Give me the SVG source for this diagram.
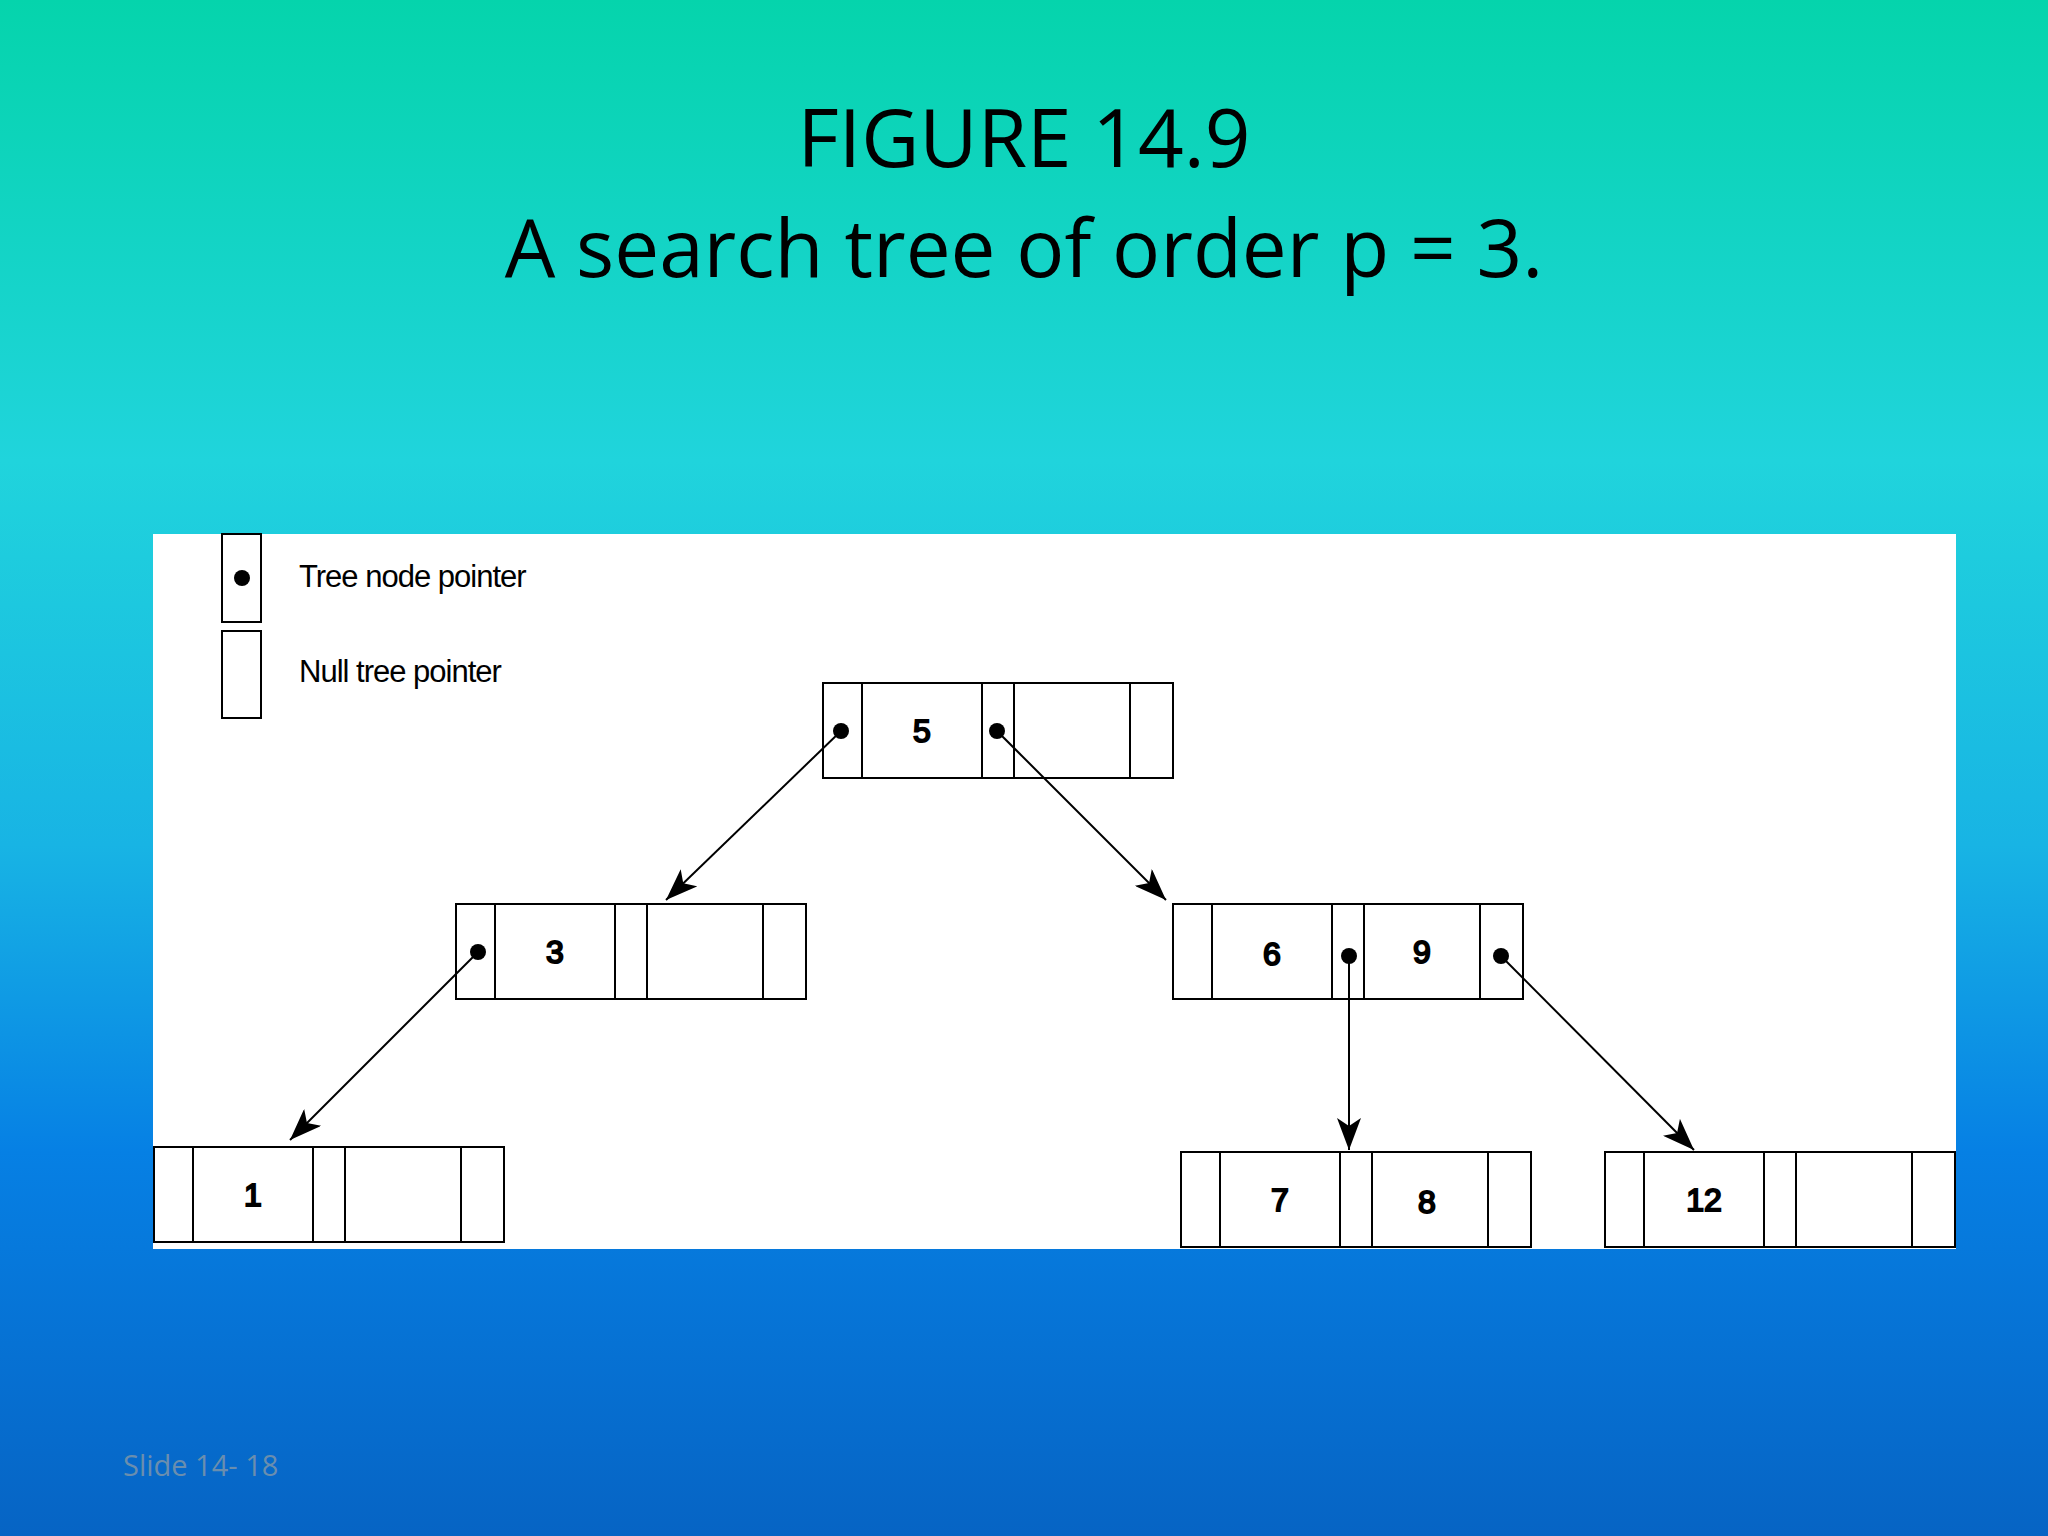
<svg xmlns="http://www.w3.org/2000/svg" width="2048" height="1536" viewBox="0 0 2048 1536">
<defs>
<linearGradient id="bg" x1="0" y1="0" x2="0" y2="1">
<stop offset="0" stop-color="#05d4ac"/>
<stop offset="0.3" stop-color="#20d4dc"/>
<stop offset="0.55" stop-color="#18b4e4"/>
<stop offset="0.75" stop-color="#0680e4"/>
<stop offset="1" stop-color="#0664c4"/>
</linearGradient>
<marker id="ah" markerUnits="userSpaceOnUse" markerWidth="34" markerHeight="24" refX="32" refY="12" orient="auto">
<path d="M0,0 L32,12 L0,24 L8,12 Z" fill="#000"/>
</marker>
<g id="node">
<rect x="0" y="0" width="350" height="95"/>
<line x1="39" y1="0" x2="39" y2="95"/>
<line x1="159" y1="0" x2="159" y2="95"/>
<line x1="191" y1="0" x2="191" y2="95"/>
<line x1="307" y1="0" x2="307" y2="95"/>
</g>
</defs>
<style>
.n{fill:#fff;stroke:#000;stroke-width:2}
.n rect,.n line{fill:#fff;stroke:#000;stroke-width:2}
.k{font-family:"Liberation Sans",Arial,sans-serif;font-size:32px;text-anchor:middle;fill:#000}
.lg{font-family:"Liberation Sans",Arial,sans-serif;font-size:31px;fill:#000;letter-spacing:-1px}
.t{font-family:"Open Sans","Liberation Sans",sans-serif;font-size:80px;text-anchor:middle;fill:#000}
.c line{stroke:#000;stroke-width:2;marker-end:url(#ah)}
</style>
<rect width="2048" height="1536" fill="url(#bg)"/>
<text class="t" x="1024" y="167">FIGURE 14.9</text>
<text class="t" x="1024" y="277">A search tree of order p = 3.</text>
<rect x="153" y="534" width="1803" height="715" fill="#fff"/>
<g id="legend">
<rect x="222" y="534" width="39" height="88" fill="#fff" stroke="#000" stroke-width="2"/>
<circle cx="242" cy="578" r="8"/>
<text class="lg" x="299" y="587">Tree node pointer</text>
<rect x="222" y="631" width="39" height="87" fill="#fff" stroke="#000" stroke-width="2"/>
<text class="lg" x="299" y="682">Null tree pointer</text>
</g>
<g id="n5" class="n" transform="translate(823,683)"><use href="#node"/><text class="k" x="99" y="59">5</text></g>
<g id="n3" class="n" transform="translate(456,904)"><use href="#node"/><text class="k" x="99" y="59">3</text></g>
<g id="n69" class="n" transform="translate(1173,904)"><use href="#node"/><text class="k" x="99" y="61">6</text><text class="k" x="249" y="59">9</text></g>
<g id="n1" class="n" transform="translate(154,1147)"><use href="#node"/><text class="k" x="99" y="59">1</text></g>
<g id="n78" class="n" transform="translate(1181,1152)"><use href="#node"/><text class="k" x="99" y="59">7</text><text class="k" x="246" y="61">8</text></g>
<g id="n12" class="n" transform="translate(1605,1152)"><use href="#node"/><text class="k" x="99" y="59">12</text></g>
<g id="connectors" class="c">
<line x1="841" y1="731" x2="666" y2="900"/>
<line x1="997" y1="731" x2="1166" y2="900"/>
<line x1="478" y1="952" x2="290" y2="1140"/>
<line x1="1349" y1="956" x2="1349" y2="1150"/>
<line x1="1501" y1="956" x2="1694" y2="1150"/>
</g>
<g fill="#000">
<circle cx="841" cy="731" r="8"/><circle cx="997" cy="731" r="8"/><circle cx="478" cy="952" r="8"/><circle cx="1349" cy="956" r="8"/><circle cx="1501" cy="956" r="8"/>
</g>
<text x="123" y="1476" font-family="'Open Sans','Liberation Sans',sans-serif" font-size="29" fill="#6a8eae">Slide 14- 18</text>
</svg>
